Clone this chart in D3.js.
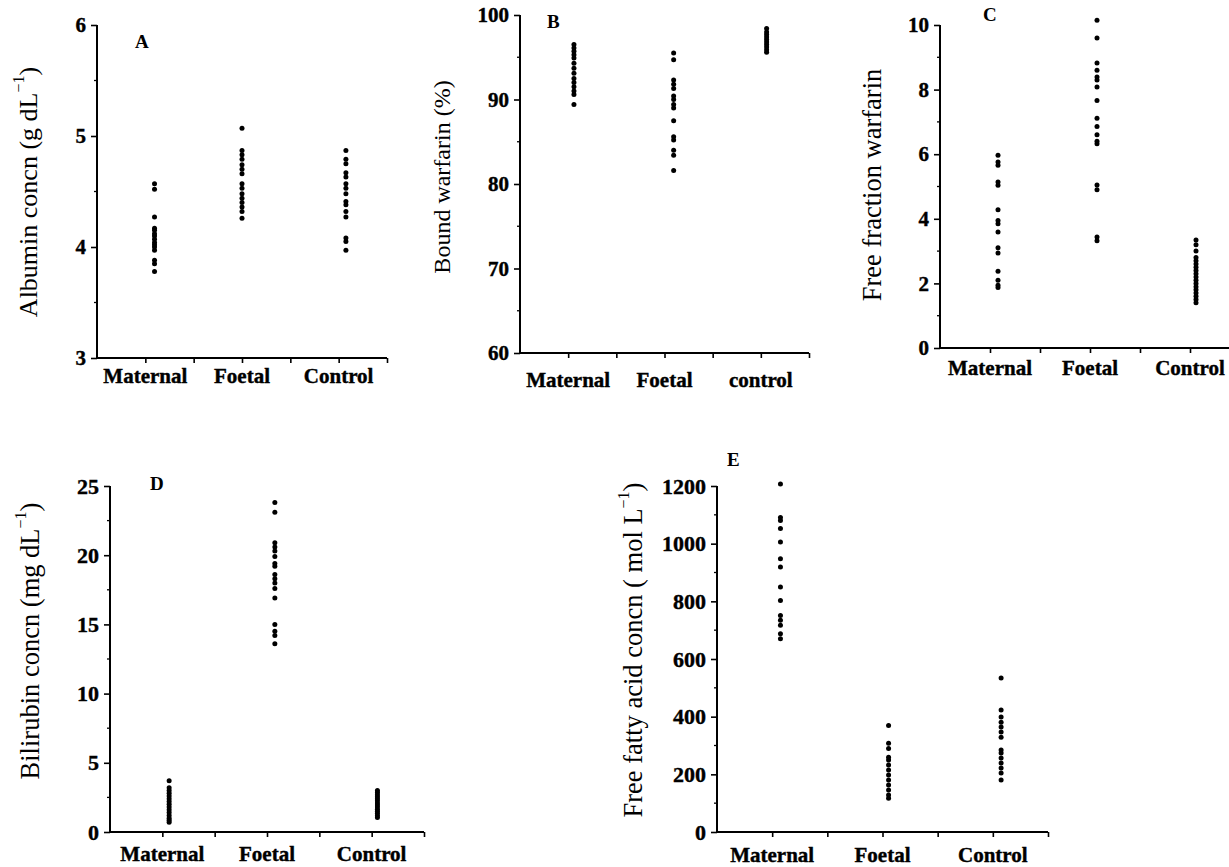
<!DOCTYPE html>
<html>
<head>
<meta charset="utf-8">
<script src="https://cdn.jsdelivr.net/npm/d3@7"></script>
<style>
  body { margin: 0; background: #fff; }
  svg { display: block; font-family: "Liberation Serif", "Times New Roman", serif; }
</style>
</head>
<body>
<div id="chart"></div>
<script>
// categories
var groups = ["Maternal", "Foetal", "Control"];
var groupsB = ["Maternal", "Foetal", "control"];

// A: albumin (g/dL)
var albuminMaternal = [4.57, 4.52, 4.27, 4.17, 4.15, 4.12, 4.10, 4.07, 4.04, 4.02, 4.00, 3.97, 3.88, 3.85, 3.78];
var albuminFoetal = [5.07, 4.87, 4.83, 4.79, 4.74, 4.70, 4.66, 4.57, 4.53, 4.48, 4.44, 4.40, 4.36, 4.32, 4.26];
var albuminControl = [4.87, 4.79, 4.75, 4.67, 4.63, 4.57, 4.53, 4.48, 4.41, 4.38, 4.32, 4.27, 4.08, 4.05, 3.97];

// B: bound warfarin (%)
var boundMaternal = [96.5, 96.1, 95.7, 95.3, 94.9, 94.3, 93.7, 93.1, 92.5, 92.0, 91.5, 91.0, 90.6, 89.4];
var boundFoetal = [95.5, 94.7, 92.3, 91.8, 91.3, 90.4, 90.0, 89.4, 89.0, 87.5, 85.6, 85.2, 84.0, 83.4, 81.6];
var boundControl = [98.4, 98.0, 97.7, 97.4, 97.1, 96.8, 96.5, 96.2, 95.9, 95.6];

// C: free fraction warfarin
var freeMaternal = [5.97, 5.76, 5.66, 5.14, 5.04, 4.28, 3.95, 3.85, 3.59, 3.10, 2.94, 2.38, 2.10, 1.94, 1.87];
var freeFoetal = [10.15, 9.6, 8.82, 8.6, 8.39, 8.3, 8.08, 7.66, 7.11, 6.86, 6.6, 6.4, 6.32, 5.05, 4.9, 3.44, 3.32];
var freeControl = [3.34, 3.2, 3.0, 2.8, 2.7, 2.6, 2.5, 2.4, 2.3, 2.2, 2.1, 2.0, 1.9, 1.8, 1.7, 1.6, 1.5, 1.4];

// D: bilirubin (mg/dL)
var biliMaternal = [3.7, 3.2, 3.0, 2.8, 2.6, 2.4, 2.2, 2.0, 1.8, 1.6, 1.4, 1.2, 1.0, 0.85, 0.7];
var biliFoetal = [23.8, 23.1, 20.9, 20.6, 20.3, 19.9, 19.4, 19.2, 18.6, 18.3, 18.0, 17.6, 16.9, 15.0, 14.5, 14.2, 13.6];
var biliControl = [3.0, 2.85, 2.7, 2.55, 2.4, 2.25, 2.1, 1.95, 1.8, 1.65, 1.5, 1.35, 1.2, 1.05];

// E: free fatty acid (umol/L)
var ffaMaternal = [1207, 1091, 1080, 1053, 1006, 948, 919, 850, 803, 751, 734, 717, 688, 670];
var ffaFoetal = [369, 308, 290, 259, 250, 232, 215, 198, 180, 163, 146, 128, 117];
var ffaControl = [534, 423, 399, 381, 364, 347, 329, 284, 274, 257, 239, 222, 205, 180];

// y ticks
var ticksA = [3, 4, 5, 6], ticksB = [60, 70, 80, 90, 100], ticksC = [0, 2, 4, 6, 8, 10],
    ticksD = [0, 5, 10, 15, 20, 25], ticksE = [0, 200, 400, 600, 800, 1000, 1200];

var svg = d3.select("#chart").append("svg")
  .attr("width", 1229).attr("height", 867);

// layout of each panel (pixels)
var panels = [
  { letter: "A", names: groups, data: [albuminMaternal, albuminFoetal, albuminControl],
    x0: 97, x1: 387, yTop: 25, yBot: 358, dom: [3, 6], ticks: ticksA, minor: 0.5,
    dotX: [1.19, 3.0, 5.15], title: ["Albumin concn (g dL", "\u22121", ")"],
    titleX: 28, titleY: 192, titleSize: 26, letterX: 135, letterY: 48, catY: 383, tickFont: 21 },
  { letter: "B", names: groupsB, data: [boundMaternal, boundFoetal, boundControl],
    x0: 520, x1: 809, yTop: 15, yBot: 353, dom: [60, 100], ticks: ticksB, minor: 5,
    dotX: [1.12, 3.19, 5.12], title: ["Bound warfarin (%)"],
    titleX: 442, titleY: 177, titleSize: 24, letterX: 547, letterY: 28, catY: 387, tickFont: 21 },
  { letter: "C", names: groups, data: [freeMaternal, freeFoetal, freeControl],
    x0: 940, x1: 1240, yTop: 25, yBot: 348, dom: [0, 10], ticks: ticksC, minor: 1,
    dotX: [1.16, 3.14, 5.12], title: ["Free fraction warfarin"],
    titleX: 872, titleY: 185, titleSize: 26.5, letterX: 983, letterY: 21, catY: 375, tickFont: 21 },
  { letter: "D", names: groups, data: [biliMaternal, biliFoetal, biliControl],
    x0: 110, x1: 424, yTop: 486, yBot: 832, dom: [0, 25], ticks: ticksD, minor: 2.5,
    dotX: [1.13, 3.15, 5.11], title: ["Bilirubin concn (mg dL", "\u22121", ")"],
    titleX: 30, titleY: 641, titleSize: 26.5, letterX: 150, letterY: 490, catY: 861, tickFont: 22 },
  { letter: "E", names: groups, data: [ffaMaternal, ffaFoetal, ffaControl],
    x0: 717, x1: 1048, yTop: 486, yBot: 832, dom: [0, 1200], ticks: ticksE, minor: 100,
    dotX: [1.15, 3.11, 5.15], title: ["Free fatty acid concn ( mol L", "\u22121", ")"],
    titleX: 633, titleY: 650, titleSize: 26.5, letterX: 727, letterY: 466, catY: 862, tickFont: 22 }
];

panels.forEach(function(p) {
  var g = svg.append("g");
  var x = d3.scaleLinear().domain([0, 6]).range([p.x0, p.x1]);
  var y = d3.scaleLinear().domain(p.dom).range([p.yBot, p.yTop]);

  // y axis: major ticks with bold labels
  var yAxis = g.append("g").attr("transform", "translate(" + p.x0 + ",0)")
    .call(d3.axisLeft(y).tickValues(p.ticks).tickSize(6).tickPadding(5).tickFormat(d3.format("d")));
  yAxis.select(".domain").remove();
  yAxis.selectAll("line").attr("stroke", "#000").attr("stroke-width", 1.6);
  yAxis.selectAll("text")
    .style("font-family", "'Liberation Serif', serif")
    .style("font-weight", "bold").style("font-size", p.tickFont + "px")
    .attr("fill", "#000").attr("stroke", "#000").attr("stroke-width", 0.4);

  // y minor ticks
  var minors = d3.range(p.dom[0] + p.minor, p.dom[1], p.minor).filter(function(v) {
    return p.ticks.indexOf(v) < 0;
  });
  g.selectAll(".minor").data(minors).enter().append("line")
    .attr("x1", p.x0 - 3).attr("x2", p.x0)
    .attr("y1", function(d) { return y(d); }).attr("y2", function(d) { return y(d); })
    .attr("stroke", "#000").attr("stroke-width", 1.3);

  // x axis
  var xAxis = g.append("g").attr("transform", "translate(0," + p.yBot + ")")
    .call(d3.axisBottom(x).tickValues([1, 2, 3, 4, 5, 6]).tickSize(5).tickFormat(""));
  xAxis.select(".domain").remove();
  xAxis.selectAll("line").attr("stroke", "#000").attr("stroke-width", 1.6);

  // axis lines
  g.append("line").attr("x1", p.x0).attr("x2", p.x0).attr("y1", p.yTop).attr("y2", p.yBot)
    .attr("stroke", "#000").attr("stroke-width", 2);
  g.append("line").attr("x1", p.x0).attr("x2", p.x1).attr("y1", p.yBot).attr("y2", p.yBot)
    .attr("stroke", "#000").attr("stroke-width", 2);

  // category labels
  g.selectAll(".cat").data(p.names).enter().append("text")
    .attr("x", function(d, i) { return x(1 + 2 * i); })
    .attr("y", p.catY)
    .attr("text-anchor", "middle")
    .attr("stroke", "#000").attr("stroke-width", 0.4)
    .style("font-weight", "bold").style("font-size", "21px")
    .text(function(d) { return d; });

  // dots
  p.data.forEach(function(vals, i) {
    g.selectAll(".dot" + i).data(vals).enter().append("circle")
      .attr("cx", x(p.dotX[i]))
      .attr("cy", function(d) { return y(d); })
      .attr("r", 2.5)
      .attr("fill", "#000");
  });

  // panel letter
  g.append("text").attr("x", p.letterX).attr("y", p.letterY)
    .style("font-weight", "bold").style("font-size", "19px").text(p.letter);

  // y title
  var t = g.append("text")
    .attr("transform", "translate(" + p.titleX + "," + p.titleY + ") rotate(-90)")
    .attr("text-anchor", "middle").attr("dominant-baseline", "central")
    .style("font-size", p.titleSize + "px");
  t.append("tspan").text(p.title[0]);
  if (p.title.length > 1) {
    t.append("tspan").attr("dy", -10).style("font-size", "16px").text(p.title[1]);
    t.append("tspan").attr("dy", 10).text(p.title[2]);
  }
});
</script>
</body>
</html>
